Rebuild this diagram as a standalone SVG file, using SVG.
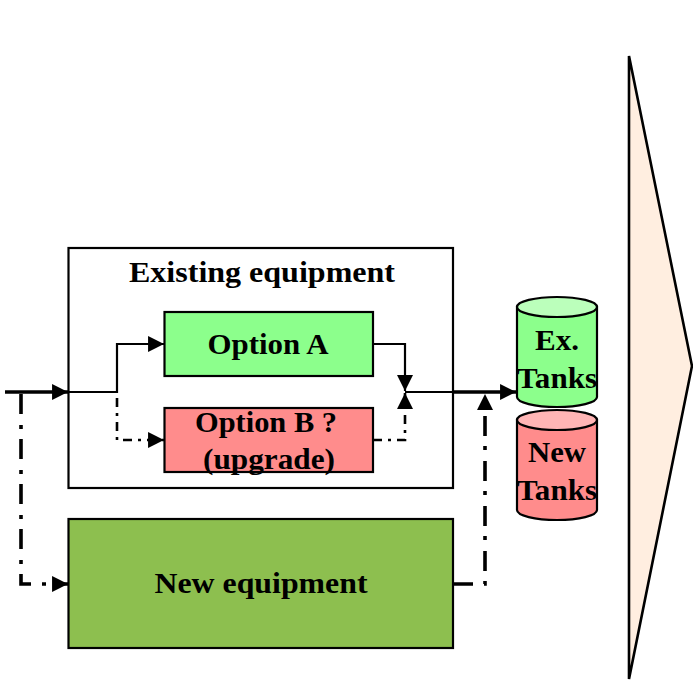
<svg xmlns="http://www.w3.org/2000/svg" width="693" height="681" viewBox="0 0 693 681">
  <style>
    .box { stroke: #000; stroke-width: 2.2; }
    .lbl { font-family: "Liberation Serif", "Times New Roman", serif; font-weight: bold; font-size: 29px; fill: #000; text-anchor: middle; }
    .thin { fill: none; stroke: #000; stroke-width: 2.2; }
    .thick { fill: none; stroke: #000; stroke-width: 3.6; }
    .dd { fill: none; stroke: #000; stroke-width: 3.6; stroke-dasharray: 20 11 4 10; }
    .ddsm { fill: none; stroke: #000; stroke-width: 2.6; stroke-dasharray: 9 6 3 6; }
    .tank { stroke: #000; stroke-width: 2.2; }
  </style>
  <defs>
    <marker id="arrow" markerUnits="userSpaceOnUse" markerWidth="17" markerHeight="17" viewBox="0 0 16 16" refX="15" refY="8" orient="auto">
      <path d="M0,0.5 L15,8 L0,15.5 Z" fill="#000"/>
    </marker>
  </defs>

  <rect width="693" height="681" fill="#fff"/>

  <!-- large process arrow on the right -->
  <g id="process-arrow">
    <polygon points="629,56 692,366 629,679" fill="#FFEEE0" stroke="#000" stroke-width="2.6" stroke-linejoin="miter"/>
  </g>

  <!-- existing equipment container -->
  <g id="existing-equipment">
    <rect class="box" x="68.5" y="248" width="384.5" height="240" fill="#fff"/>
    <text class="lbl" x="262" y="282" textLength="266" lengthAdjust="spacingAndGlyphs">Existing equipment</text>
  </g>

  <g id="option-a">
    <rect class="box" x="164.5" y="312" width="208.5" height="64" fill="#8CFF8C"/>
    <text class="lbl" x="268" y="354" textLength="121" lengthAdjust="spacingAndGlyphs">Option A</text>
  </g>

  <g id="option-b">
    <rect class="box" x="164.5" y="408" width="208.5" height="64" fill="#FF8C8C"/>
    <text class="lbl" x="266" y="432" textLength="142" lengthAdjust="spacingAndGlyphs">Option B ?</text>
    <text class="lbl" x="269" y="469" textLength="132" lengthAdjust="spacingAndGlyphs">(upgrade)</text>
  </g>

  <g id="new-equipment">
    <rect class="box" x="68.5" y="519" width="384.5" height="129" fill="#8DBF4F"/>
    <text class="lbl" x="261" y="593" textLength="213" lengthAdjust="spacingAndGlyphs">New equipment</text>
  </g>

  <!-- storage tanks -->
  <g id="existing-tanks">
    <path class="tank" d="M517,307 L517,397 A40,10 0 0 0 597,397 L597,307 Z" fill="#8CFF8C"/>
    <ellipse class="tank" cx="557" cy="307" rx="40" ry="10" fill="#BBFFBB"/>
    <text class="lbl" x="557" y="350" textLength="44" lengthAdjust="spacingAndGlyphs">Ex.</text>
    <text class="lbl" x="557" y="388" textLength="80" lengthAdjust="spacingAndGlyphs">Tanks</text>
  </g>

  <g id="new-tanks">
    <path class="tank" d="M517,420 L517,510 A40,10 0 0 0 597,510 L597,420 Z" fill="#FF8C8C"/>
    <ellipse class="tank" cx="557" cy="420" rx="40" ry="10" fill="#FFB5B5"/>
    <text class="lbl" x="557" y="462" textLength="58" lengthAdjust="spacingAndGlyphs">New</text>
    <text class="lbl" x="557" y="500" textLength="80" lengthAdjust="spacingAndGlyphs">Tanks</text>
  </g>

  <!-- connectors -->
  <g id="connectors">
    <!-- main feed into existing equipment -->
    <path class="thick" d="M5,392 L68,392" marker-end="url(#arrow)"/>
    <!-- feed branch to new equipment -->
    <path class="dd" d="M21,394 L21,584 L68,584" marker-end="url(#arrow)"/>
    <!-- split to option A -->
    <path class="thin" d="M68,392 L117,392 L117,344 L164,344" marker-end="url(#arrow)"/>
    <!-- split to option B -->
    <path class="ddsm" d="M117,398 L117,440 L164,440" marker-end="url(#arrow)"/>
    <!-- option A out -->
    <path class="thin" d="M373,344 L405,344 L405,391" marker-end="url(#arrow)"/>
    <!-- option B out -->
    <path class="ddsm" d="M373,440 L405,440 L405,393" marker-end="url(#arrow)"/>
    <!-- merged flow to tanks -->
    <path class="thin" d="M405,392 L453,392"/>
    <path class="thick" d="M453,392 L516,392" marker-end="url(#arrow)"/>
    <!-- new equipment out -->
    <path class="dd" d="M453,584 L485,584 L485,394" stroke-dasharray="15 14 4 10 20 11 4 10 20 11 4 10 20 11 4 10 20 11 4 10 20 11 4 10" marker-end="url(#arrow)"/>
  </g>
</svg>
